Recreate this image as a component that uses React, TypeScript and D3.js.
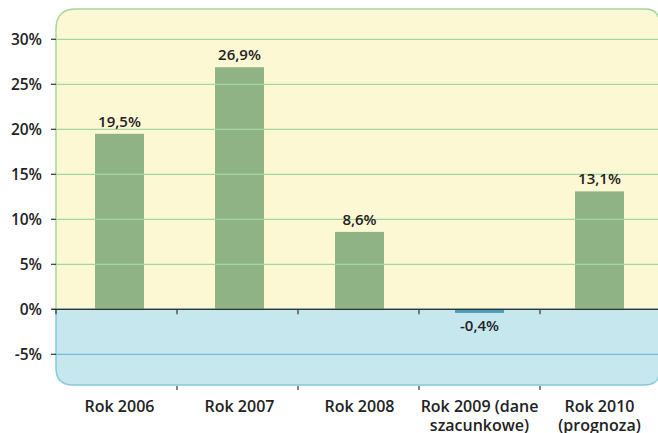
import React from "react";
import * as d3 from "d3";

const categories = [["Rok 2006"], ["Rok 2007"], ["Rok 2008"], ["Rok 2009 (dane", "szacunkowe)"], ["Rok 2010", "(prognoza)"]];
const values = [19.5, 26.9, 8.6, -0.4, 13.1];
const valueLabels = ["19,5%", "26,9%", "8,6%", "-0,4%", "13,1%"];
const yTicks = [-5, 0, 5, 10, 15, 20, 25, 30];

export default function App() {
  const W = 658, H = 433;
  const left = 56, right = 661;
  const boxTop = 9, boxBottom = 385, boxRight = 657;
  const y = d3.scaleLinear().domain([0, 30]).range([309.3, 39.3]);
  const x = d3.scaleBand<number>().domain(d3.range(categories.length)).range([59.5, 659.5]).paddingInner(0.592).paddingOuter(0.296);
  const step = (right - left) / categories.length;
  const y0 = y(0);
  const r1 = 20, r2 = 17;
  const font = "'Open Sans', 'DejaVu Sans', sans-serif";
  const yellowPath = `M${left},${y0} L${left},${boxTop + r1} Q${left},${boxTop} ${left + r1},${boxTop} L${boxRight - 12},${boxTop} Q${boxRight},${boxTop} ${boxRight + 2},${boxTop + 10} L${boxRight + 2},${y0} Z`;
  const bluePath = `M${left},${y0} L${left},${boxBottom - r2} Q${left},${boxBottom} ${left + r2},${boxBottom} L${boxRight - 12},${boxBottom} Q${boxRight},${boxBottom} ${boxRight + 2},${boxBottom - 10} L${boxRight + 2},${y0} Z`;
  const tickXs = d3.range(categories.length + 1).map((i) => left + i * step);
  const cx = (i: number) => x(i)! + x.bandwidth() / 2;
  return (
    <div style={{ position: "absolute", left: 0, top: 0 }}>
      <svg width={W} height={H} style={{ display: "block", fontFamily: font }}>
        <rect width={W} height={H} fill="#fff" />
        <path d={yellowPath} fill="#fdf8d4" stroke="#a6d6a0" strokeWidth={1.5} />
        <path d={bluePath} fill="#c7e7ef" stroke="#86cadb" strokeWidth={1.5} />
        {values.map((v, i) => (
          <rect key={i} x={x(i)} width={x.bandwidth()} y={v >= 0 ? y(v) : y0} height={Math.max(Math.abs(y(v) - y0), 3)}
            fill={v >= 0 ? "#8fb385" : "#4f9db5"} />
        ))}
        {yTicks.filter((t) => t > 0).map((t) => (
          <line key={t} x1={left} x2={boxRight + 2} y1={y(t)} y2={y(t)} stroke="#a6d6a0" strokeWidth={1.3} />
        ))}
        {yTicks.filter((t) => t < 0).map((t) => (
          <line key={t} x1={left} x2={boxRight + 2} y1={y(t)} y2={y(t)} stroke="#6fbfd6" strokeWidth={1.2} />
        ))}
        <line x1={left - 4} x2={boxRight + 2} y1={y0} y2={y0} stroke="#333" strokeWidth={1.3} />
        {yTicks.map((t) => (
          <g key={t}>
            <line x1={left - 5} x2={left} y1={y(t)} y2={y(t)} stroke="#333" strokeWidth={1.2} />
            <text x={42} y={y(t)} dy="0.36em" textAnchor="end" fontSize={15.5} fontWeight={600} fill="#222">{t}%</text>
          </g>
        ))}
        {tickXs.map((tx, i) => (
          <g key={i}>
            <line x1={tx} x2={tx} y1={y0} y2={y0 + 5} stroke="#333" strokeWidth={1.2} />
            {i > 0 && <line x1={tx} x2={tx} y1={boxBottom + 1} y2={boxBottom + 5} stroke="#333" strokeWidth={1.2} />}
          </g>
        ))}
        {values.map((v, i) => (
          <text key={i} x={cx(i)} y={v >= 0 ? y(v) - 7 : y0 + 22} textAnchor="middle" fontSize={15} fontWeight={600} fill="#222">{valueLabels[i]}</text>
        ))}
        {categories.map((lines, i) => (
          <text key={i} x={cx(i)} y={412} textAnchor="middle" fontSize={16} fontWeight={600} fill="#222">
            {lines.map((l, j) => (
              <tspan key={j} x={cx(i)} dy={j === 0 ? 0 : 19}>{l}</tspan>
            ))}
          </text>
        ))}
      </svg>
    </div>
  );
}
